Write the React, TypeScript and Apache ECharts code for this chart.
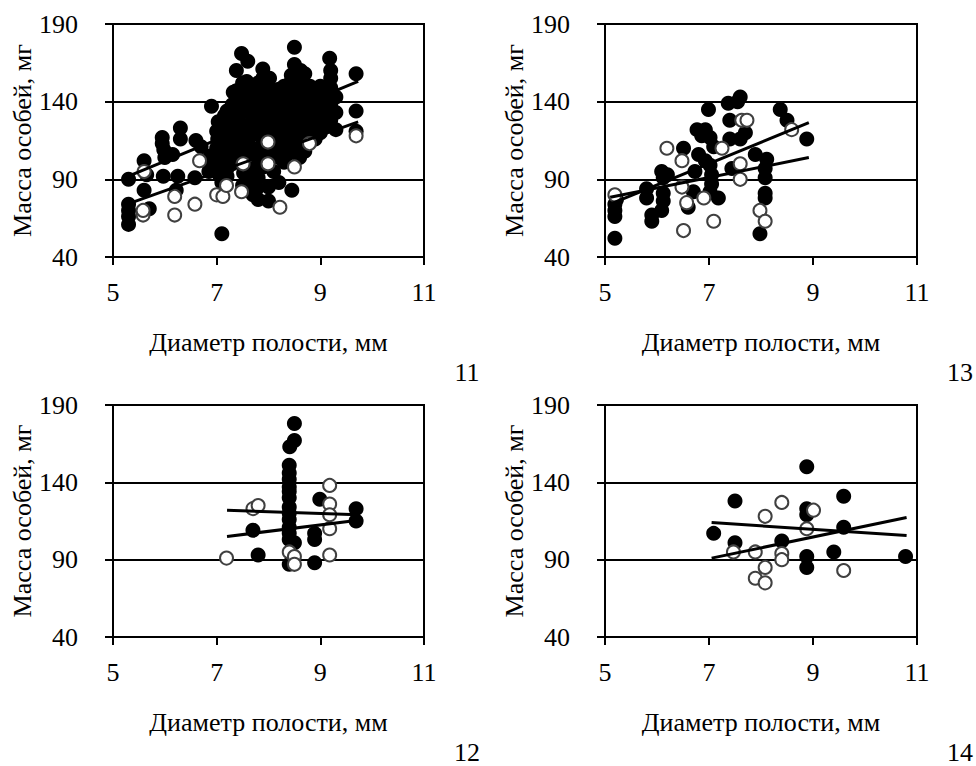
import React, { useEffect, useRef } from "react";
import * as echarts from "echarts";

type P = [number, number];

const X_MIN = 5, X_MAX = 11, X_STEP = 2;
const Y_MIN = 40, Y_MAX = 190, Y_STEP = 50;
const xTitle = "Диаметр полости, мм";
const yTitle = "Масса особей, мг";
const panelNumbers = ["11", "13", "12", "14"];

const panel1Filled: P[] = [
  [5.3,90],[5.3,74],[5.3,70],[5.3,66],[5.3,61],
  [5.6,102],[5.6,83],[5.65,93],[5.7,71],
  [5.95,117],[5.95,113],[5.98,109],[6.0,104],[5.97,92],
  [6.15,106],[6.25,92],[6.22,83],[6.3,123],[6.3,116],
  [6.6,115],[6.58,91],[6.7,111],
  [6.85,95],[6.85,100],[6.88,105],[6.9,137],
  [7.0,98],[7.0,104],[7.0,110],[7.02,116],[7.0,121],[7.03,127],[7.05,93],
  [7.1,55],[7.1,88],[7.1,113],[7.12,125],[7.15,131],
  [7.2,92],[7.2,97],[7.22,103],[7.2,108],[7.2,118],[7.22,123],[7.2,129],[7.2,134],
  [7.3,100],[7.3,112],[7.32,126],[7.3,132],[7.3,138],[7.32,146],
  [7.4,105],[7.4,118],[7.42,128],[7.4,140],[7.38,147],[7.38,160],
  [7.5,86],[7.52,94],[7.5,112],[7.5,122],[7.48,133],[7.5,141],[7.5,152],[7.48,171],
  [7.6,85],[7.6,92],[7.6,107],[7.6,115],[7.62,125],[7.6,135],[7.6,145],[7.58,153],[7.6,166],
  [7.7,80],[7.7,89],[7.7,97],[7.72,119],[7.7,129],[7.7,138],[7.7,148],
  [7.8,77],[7.77,84],[7.8,91],[7.8,104],[7.8,110],[7.8,123],[7.82,132],[7.8,141],[7.8,152],
  [7.9,98],[7.9,117],[7.9,127],[7.9,136],[7.9,146],[7.89,155],[7.89,161],
  [8.0,76],[8.0,85],[8.02,107],[8.0,121],[8.0,131],[8.0,140],[8.02,149],[8.02,155],
  [8.1,95],[8.1,113],[8.1,126],[8.1,135],[8.1,144],
  [8.2,88],[8.2,104],[8.2,118],[8.2,129],[8.2,139],[8.2,148],
  [8.3,101],[8.3,110],[8.3,122],[8.3,132],[8.3,142],[8.3,150],
  [8.45,83],[8.4,107],[8.4,116],[8.4,126],[8.4,136],[8.4,145],[8.42,152],[8.44,157],
  [8.5,110],[8.5,120],[8.5,130],[8.5,140],[8.5,149],[8.5,164],[8.5,175],
  [8.6,104],[8.6,114],[8.6,124],[8.6,134],[8.6,143],[8.6,152],[8.62,160],
  [8.7,108],[8.7,118],[8.7,128],[8.7,138],[8.7,146],[8.7,158],
  [8.8,122],[8.8,132],[8.8,141],[8.8,150],
  [8.9,116],[8.9,127],[8.9,137],[8.9,145],
  [9.0,120],[9.0,131],[9.0,142],[9.0,150],
  [9.1,124],[9.1,135],[9.1,146],
  [9.2,128],[9.2,138],[9.2,149],[9.2,155],[9.2,160],[9.18,168],
  [9.3,122],[9.3,133],[9.3,143],
  [9.69,121],[9.69,134],[9.69,158],
];
const panel1Open: P[] = [
  [5.58,67],[5.58,70],[5.6,95],[6.19,79],[6.19,67],[6.58,74],[6.67,102],
  [7.0,80],[7.12,79],[7.19,86],[7.48,82],[7.51,100],[7.99,114],[7.99,100],
  [8.22,72],[8.5,98],[8.79,113],[9.69,118],
];
const panel1TrendA: P[] = [[5.3,92],[9.73,153]];
const panel1TrendB: P[] = [[5.4,75.5],[9.73,127]];

const panel2Filled: P[] = [
  [5.19,52],[5.19,66],[5.19,70],[5.19,74],[5.22,77],
  [5.8,84],[5.8,78],[5.9,67],[5.9,63],
  [6.09,95],[6.12,91],[6.12,81],[6.12,76],[6.09,70],[6.2,93],
  [6.51,110],[6.6,72],[6.7,82],
  [6.77,122],[6.93,122],[6.86,118],[7.02,117],[7.09,111],[6.8,106],[6.93,102],[7.02,99],
  [6.73,95],[7.05,93],[7.05,87],[7.18,78],[7.02,82],
  [6.99,135],[7.37,139],[7.6,143],[7.55,140],[7.4,128],
  [7.4,116],[7.6,116],[7.7,120],[7.44,97],
  [7.89,106],[8.11,103],[8.08,97],[8.08,91],[8.08,81],[8.08,78],[7.98,55],
  [8.37,135],[8.5,128],[8.88,116],
];
const panel2Open: P[] = [
  [5.19,80],[6.19,110],[6.48,102],[6.48,85],[6.57,75],[6.51,57],[6.9,78],[7.09,63],
  [7.25,110],[7.63,128],[7.73,128],[7.6,100],[7.6,90],[7.98,70],[8.08,63],[8.59,122],
];
const panel2TrendA: P[] = [[5.1,74],[8.92,126.5]];
const panel2TrendB: P[] = [[5.1,78.5],[8.92,104]];

const panel3Filled: P[] = [
  [8.5,178],[8.5,167],[8.41,163],[8.4,151],[8.4,146],[8.4,142],[8.4,137],[8.4,134],
  [8.4,130],[8.4,124],[8.4,120],[8.4,116],[8.4,111],[8.4,107],[8.4,103],[8.5,101],
  [8.4,87],[8.99,129],[8.89,107],[8.89,103],[8.89,88],[9.69,123],[9.69,115],[7.7,109],[7.8,93],
];
const panel3Open: P[] = [
  [7.19,91],[7.7,123],[7.8,125],[9.18,138],[9.18,126],[9.18,119],[9.18,110],[9.18,93],
  [8.4,95],[8.5,92],[8.5,87],
];
const panel3TrendA: P[] = [[7.2,122],[9.73,119]];
const panel3TrendB: P[] = [[7.2,105],[9.73,115.5]];

const panel4Filled: P[] = [
  [8.88,150],[7.5,128],[9.59,131],[8.88,123],[8.88,119],[7.09,107],[7.5,101],[8.4,102],
  [9.59,111],[9.4,95],[8.88,92],[8.88,85],[10.78,92],
];
const panel4Open: P[] = [
  [8.4,127],[8.08,118],[9.01,122],[8.88,110],[7.47,95],[7.89,95],[8.4,94],[8.4,90],
  [8.08,85],[7.89,78],[8.08,75],[9.59,83],
];
const panel4TrendA: P[] = [[7.05,114],[10.8,105.6]];
const panel4TrendB: P[] = [[7.05,91],[10.8,117.3]];

const panels = [
  { filled: panel1Filled, open: panel1Open, a: panel1TrendA, b: panel1TrendB },
  { filled: panel2Filled, open: panel2Open, a: panel2TrendA, b: panel2TrendB },
  { filled: panel3Filled, open: panel3Open, a: panel3TrendA, b: panel3TrendB },
  { filled: panel4Filled, open: panel4Open, a: panel4TrendA, b: panel4TrendB },
];

const FONT = "'Liberation Serif', 'Times New Roman', serif";
const FS = 26;

const gridBoxes = [
  { left: 113, top: 24, width: 311, height: 233 },
  { left: 605, top: 24, width: 312, height: 233 },
  { left: 113, top: 405, width: 311, height: 232 },
  { left: 605, top: 405, width: 312, height: 232 },
];
const numberPos = [
  [467, 372],
  [960, 372],
  [467, 752],
  [960, 752],
];

export default function App() {
  const ref = useRef<HTMLDivElement>(null);
  useEffect(() => {
    document.body.style.margin = "0";
    if (!ref.current) return;
    const chart = echarts.init(ref.current, undefined, { renderer: "svg" });
    const grid = gridBoxes.map((g) => ({
      ...g,
      show: true,
      borderColor: "#000",
      borderWidth: 2,
      backgroundColor: "transparent",
      containLabel: false,
    }));
    const xAxis = gridBoxes.map((_, i) => ({
      type: "value",
      gridIndex: i,
      min: X_MIN,
      max: X_MAX,
      interval: X_STEP,
      name: xTitle,
      nameLocation: "middle",
      nameGap: 72,
      nameTextStyle: { fontFamily: FONT, fontSize: FS, color: "#000" },
      axisLine: { show: true, lineStyle: { color: "#000", width: 2 } },
      axisTick: { show: true, length: 8, lineStyle: { color: "#000", width: 2 } },
      axisLabel: { fontFamily: FONT, fontSize: FS, color: "#000", margin: 22 },
      splitLine: { show: false },
    }));
    const yAxis = gridBoxes.map((_, i) => ({
      type: "value",
      gridIndex: i,
      min: Y_MIN,
      max: Y_MAX,
      interval: Y_STEP,
      name: yTitle,
      nameLocation: "middle",
      nameGap: 76,
      nameTextStyle: { fontFamily: FONT, fontSize: FS, color: "#000" },
      axisLine: { show: true, lineStyle: { color: "#000", width: 2 } },
      axisTick: { show: true, length: 8, lineStyle: { color: "#000", width: 2 } },
      axisLabel: { fontFamily: FONT, fontSize: FS, color: "#000", margin: 35 },
      splitLine: { show: true, lineStyle: { color: "#000", width: 2 } },
    }));
    const series: any[] = [];
    panels.forEach((p, i) => {
      series.push({
        type: "scatter",
        xAxisIndex: i,
        yAxisIndex: i,
        data: p.filled,
        symbol: "circle",
        symbolSize: 15,
        itemStyle: { color: "#000", opacity: 1 },
        z: 2,
      });
      series.push({
        type: "scatter",
        xAxisIndex: i,
        yAxisIndex: i,
        data: p.open,
        symbol: "circle",
        symbolSize: 13,
        itemStyle: { color: "#fff", borderColor: "#404040", borderWidth: 2, opacity: 1 },
        z: 3,
      });
      [p.a, p.b].forEach((t) => {
        series.push({
          type: "line",
          xAxisIndex: i,
          yAxisIndex: i,
          data: t,
          symbol: "none",
          lineStyle: { color: "#000", width: 3 },
          z: 4,
        });
      });
    });
    chart.setOption({
      animation: false,
      backgroundColor: "#fff",
      grid,
      xAxis,
      yAxis,
      series,
      graphic: panelNumbers.map((t, i) => ({
        type: "text",
        x: numberPos[i][0],
        y: numberPos[i][1],
        style: {
          text: t,
          fontFamily: FONT,
          fontSize: FS,
          fill: "#000",
          textAlign: "center",
          textVerticalAlign: "middle",
        },
      })),
    });
    return () => chart.dispose();
  }, []);
  return (
    <div
      ref={ref}
      style={{ position: "absolute", left: 0, top: 0, width: 976, height: 766 }}
    />
  );
}
